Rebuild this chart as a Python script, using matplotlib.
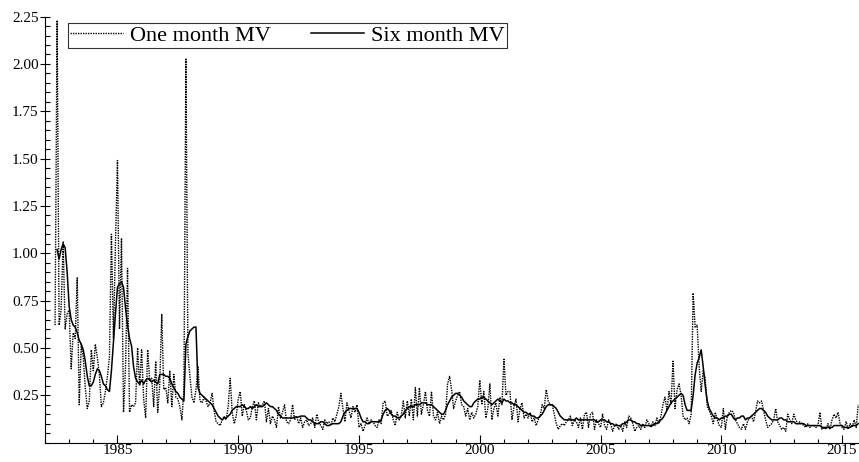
import numpy as np
import matplotlib
matplotlib.use("Agg")
import matplotlib.pyplot as plt
from matplotlib.ticker import MultipleLocator, FixedLocator, FormatStrFormatter

plt.rcParams['font.family'] = ['Liberation Serif', 'DejaVu Serif']

# monthly series, June 1982 to September 2015 (one row per year)
start_year, start_month = 1982, 6

one_month = [
    0.62, 2.23, 0.62, 0.70, 1.06, 0.60, 0.68,
    0.70, 0.39, 0.58, 0.55, 0.87, 0.20, 0.52, 0.45, 0.29, 0.18, 0.22, 0.49,
    0.38, 0.52, 0.45, 0.36, 0.19, 0.21, 0.27, 0.35, 0.45, 1.10, 0.55, 1.05,
    1.49, 0.60, 1.08, 0.16, 0.40, 0.92, 0.16, 0.20, 0.19, 0.21, 0.50, 0.30,
    0.49, 0.23, 0.13, 0.49, 0.33, 0.34, 0.19, 0.43, 0.16, 0.31, 0.68, 0.28,
    0.29, 0.21, 0.38, 0.19, 0.36, 0.24, 0.23, 0.19, 0.12, 0.28, 2.03, 0.47,
    0.35, 0.24, 0.21, 0.28, 0.40, 0.22, 0.21, 0.24, 0.22, 0.19, 0.21, 0.26,
    0.17, 0.11, 0.10, 0.09, 0.12, 0.14, 0.12, 0.19, 0.34, 0.16, 0.10, 0.14,
    0.23, 0.27, 0.14, 0.20, 0.17, 0.12, 0.13, 0.19, 0.22, 0.12, 0.21, 0.19,
    0.20, 0.22, 0.11, 0.18, 0.10, 0.14, 0.12, 0.08, 0.19, 0.13, 0.16, 0.20,
    0.11, 0.10, 0.12, 0.20, 0.12, 0.14, 0.10, 0.13, 0.08, 0.11, 0.12, 0.09,
    0.10, 0.13, 0.08, 0.15, 0.11, 0.09, 0.07, 0.12, 0.10, 0.11, 0.09, 0.13,
    0.11, 0.15, 0.19, 0.26, 0.18, 0.11, 0.21, 0.17, 0.13, 0.19, 0.16, 0.20,
    0.08, 0.10, 0.06, 0.09, 0.13, 0.10, 0.12, 0.11, 0.09, 0.08, 0.12, 0.10,
    0.21, 0.22, 0.14, 0.15, 0.17, 0.12, 0.09, 0.16, 0.12, 0.14, 0.22, 0.13,
    0.22, 0.14, 0.23, 0.12, 0.29, 0.14, 0.29, 0.15, 0.20, 0.27, 0.17, 0.14,
    0.27, 0.14, 0.12, 0.16, 0.10, 0.14, 0.12, 0.15, 0.31, 0.35, 0.28, 0.18,
    0.22, 0.25, 0.27, 0.20, 0.19, 0.14, 0.18, 0.12, 0.16, 0.13, 0.15, 0.19,
    0.33, 0.20, 0.27, 0.13, 0.18, 0.31, 0.12, 0.18, 0.21, 0.14, 0.24, 0.20,
    0.44, 0.25, 0.27, 0.27, 0.12, 0.19, 0.23, 0.11, 0.18, 0.21, 0.13, 0.15,
    0.13, 0.16, 0.11, 0.13, 0.09, 0.12, 0.14, 0.20, 0.18, 0.28, 0.22, 0.20,
    0.20, 0.15, 0.10, 0.07, 0.09, 0.10, 0.09, 0.11, 0.12, 0.14, 0.09, 0.12,
    0.11, 0.08, 0.13, 0.07, 0.15, 0.16, 0.08, 0.15, 0.16, 0.07, 0.12, 0.10,
    0.08, 0.15, 0.09, 0.07, 0.12, 0.10, 0.06, 0.09, 0.10, 0.07, 0.09, 0.06,
    0.11, 0.08, 0.14, 0.13, 0.10, 0.06, 0.08, 0.09, 0.07, 0.10, 0.08, 0.12,
    0.10, 0.08, 0.11, 0.09, 0.13, 0.10, 0.14, 0.20, 0.24, 0.17, 0.27, 0.20,
    0.43, 0.18, 0.28, 0.31, 0.25, 0.14, 0.12, 0.13, 0.10, 0.15, 0.79, 0.61,
    0.62, 0.40, 0.27, 0.38, 0.34, 0.19, 0.17, 0.14, 0.10, 0.16, 0.12, 0.09,
    0.08, 0.18, 0.07, 0.14, 0.16, 0.17, 0.16, 0.12, 0.10, 0.08, 0.07, 0.10,
    0.07, 0.11, 0.13, 0.14, 0.11, 0.16, 0.22, 0.21, 0.22, 0.17, 0.12, 0.08,
    0.09, 0.10, 0.12, 0.18, 0.11, 0.09, 0.07, 0.08, 0.06, 0.15, 0.12, 0.10,
    0.15, 0.12, 0.10, 0.11, 0.10, 0.09, 0.08, 0.10, 0.08, 0.09, 0.09, 0.08,
    0.09, 0.16, 0.07, 0.08, 0.07, 0.10, 0.07, 0.12, 0.15, 0.13, 0.16, 0.10,
    0.08, 0.07, 0.11, 0.07, 0.10, 0.08, 0.12, 0.08, 0.20,
]

six_month = [
    np.nan, 1.02, 0.97, 1.02, 1.05, 1.03, 0.90,
    0.72, 0.65, 0.62, 0.61, 0.58, 0.54, 0.52, 0.49, 0.43, 0.35, 0.30, 0.30,
    0.32, 0.36, 0.39, 0.38, 0.35, 0.31, 0.30, 0.28, 0.27, 0.38, 0.53, 0.68,
    0.82, 0.84, 0.85, 0.82, 0.71, 0.62, 0.55, 0.51, 0.40, 0.34, 0.32, 0.31,
    0.33, 0.31, 0.33, 0.34, 0.33, 0.32, 0.33, 0.32, 0.31, 0.36, 0.36, 0.36,
    0.35, 0.35, 0.34, 0.31, 0.29, 0.27, 0.26, 0.24, 0.23, 0.22, 0.52, 0.56,
    0.59, 0.60, 0.61, 0.61, 0.29, 0.26, 0.25, 0.24, 0.23, 0.22, 0.21, 0.20,
    0.18, 0.16, 0.14, 0.13, 0.12, 0.13, 0.13, 0.14, 0.15, 0.17, 0.18, 0.19,
    0.19, 0.19, 0.20, 0.19, 0.18, 0.18, 0.19, 0.18, 0.19, 0.20, 0.19, 0.19,
    0.19, 0.20, 0.21, 0.20, 0.19, 0.19, 0.18, 0.17, 0.15, 0.14, 0.13, 0.13,
    0.13, 0.13, 0.13, 0.13, 0.135, 0.135, 0.135, 0.14, 0.14, 0.14, 0.13, 0.12,
    0.12, 0.11, 0.10, 0.10, 0.10, 0.11, 0.11, 0.10, 0.09, 0.09, 0.095, 0.10,
    0.10, 0.10, 0.10, 0.11, 0.14, 0.16, 0.17, 0.18, 0.18, 0.18, 0.18, 0.18,
    0.16, 0.13, 0.11, 0.11, 0.10, 0.10, 0.11, 0.11, 0.11, 0.11, 0.11, 0.12,
    0.15, 0.17, 0.18, 0.17, 0.15, 0.14, 0.14, 0.13, 0.13, 0.14, 0.15, 0.17,
    0.18, 0.19, 0.19, 0.19, 0.20, 0.20, 0.20, 0.21, 0.21, 0.21, 0.20, 0.20,
    0.20, 0.19, 0.18, 0.17, 0.16, 0.15, 0.15, 0.17, 0.20, 0.22, 0.24, 0.25,
    0.26, 0.26, 0.25, 0.24, 0.22, 0.21, 0.20, 0.19, 0.19, 0.21, 0.22, 0.23,
    0.23, 0.24, 0.24, 0.23, 0.22, 0.21, 0.20, 0.21, 0.22, 0.23, 0.22, 0.21,
    0.23, 0.22, 0.22, 0.21, 0.21, 0.20, 0.20, 0.19, 0.18, 0.17, 0.16, 0.16,
    0.15, 0.15, 0.14, 0.14, 0.13, 0.13, 0.14, 0.15, 0.17, 0.19, 0.20, 0.20,
    0.20, 0.19, 0.18, 0.16, 0.14, 0.13, 0.12, 0.12, 0.12, 0.12, 0.12, 0.12,
    0.13, 0.12, 0.12, 0.12, 0.12, 0.12, 0.12, 0.12, 0.12, 0.12, 0.11, 0.11,
    0.12, 0.12, 0.12, 0.11, 0.11, 0.10, 0.10, 0.09, 0.09, 0.09, 0.09, 0.10,
    0.10, 0.11, 0.12, 0.12, 0.11, 0.11, 0.10, 0.10, 0.09, 0.09, 0.09, 0.09,
    0.09, 0.09, 0.09, 0.10, 0.10, 0.11, 0.12, 0.13, 0.15, 0.17, 0.19, 0.21,
    0.22, 0.23, 0.24, 0.25, 0.26, 0.25, 0.20, 0.17, 0.17, 0.17, 0.25, 0.36,
    0.42, 0.45, 0.49, 0.40, 0.30, 0.22, 0.18, 0.16, 0.14, 0.13, 0.13, 0.12,
    0.13, 0.13, 0.14, 0.14, 0.15, 0.15, 0.13, 0.12, 0.13, 0.13, 0.14, 0.14,
    0.12, 0.13, 0.13, 0.14, 0.15, 0.16, 0.17, 0.18, 0.18, 0.17, 0.16, 0.14,
    0.13, 0.12, 0.12, 0.12, 0.12, 0.13, 0.13, 0.12, 0.12, 0.11, 0.11, 0.11,
    0.11, 0.10, 0.10, 0.10, 0.10, 0.10, 0.09, 0.09, 0.09, 0.09, 0.09, 0.09,
    0.09, 0.09, 0.08, 0.08, 0.08, 0.08, 0.08, 0.08, 0.09, 0.09, 0.09, 0.09,
    0.09, 0.08, 0.08, 0.08, 0.08, 0.09, 0.09, 0.09, 0.10,
]

y_ticks = [0.25, 0.50, 0.75, 1.00, 1.25, 1.50, 1.75, 2.00, 2.25]

# decimal year for each month
t = start_year + (start_month - 1) / 12 + np.arange(len(one_month)) / 12

fig = plt.figure(figsize=(8.59, 4.62), dpi=100)
ax = fig.add_axes([0.0524, 0.042, 0.9476, 0.922])

ax.plot(t, one_month, color='black', lw=1.0, ls=(0, (1, 0.8)), label='One month MV')
ax.plot(t, six_month, color='black', lw=1.1, ls='-', label='Six month MV')

ax.set_xlim(1982.0, 2015.7)
ax.set_ylim(0.0, 2.25)

ax.xaxis.set_major_locator(MultipleLocator(5))
ax.xaxis.set_minor_locator(MultipleLocator(1))
ax.yaxis.set_major_locator(FixedLocator(y_ticks))
ax.yaxis.set_minor_locator(MultipleLocator(0.05))
ax.yaxis.set_major_formatter(FormatStrFormatter('%.2f'))

ax.tick_params(axis='x', which='major', direction='in', length=6, width=0.8,
               labelsize=11, pad=1)
ax.tick_params(axis='x', which='minor', direction='in', length=3, width=0.8)
ax.tick_params(axis='y', which='major', direction='inout', length=7, width=0.8,
               labelsize=11, pad=1)
ax.tick_params(axis='y', which='minor', direction='in', length=3.5, width=0.8)

for side in ('top', 'right'):
    ax.spines[side].set_visible(False)
for side in ('left', 'bottom'):
    ax.spines[side].set_linewidth(0.8)

leg = ax.legend(loc='upper left', bbox_to_anchor=(0.028, 0.985), borderaxespad=0,
                ncol=2, fontsize=16, frameon=True, fancybox=False,
                handlelength=2.4, handletextpad=0.3, columnspacing=1.8,
                borderpad=0.1)
leg.get_frame().set_edgecolor('black')
leg.get_frame().set_linewidth(0.8)

fig.savefig('out.png', dpi=100)
